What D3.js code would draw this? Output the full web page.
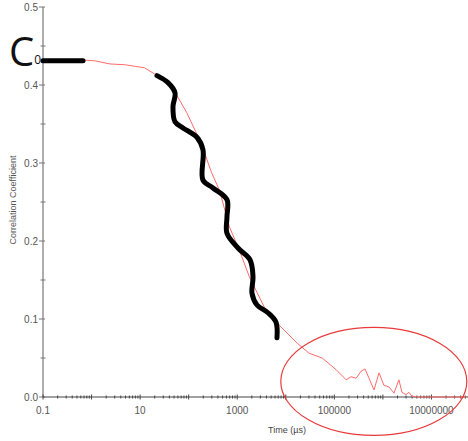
<!DOCTYPE html>
<html>
<head>
<meta charset="utf-8">
<script src="https://cdn.jsdelivr.net/npm/d3@7"></script>
<style>
  body { margin: 0; background: #fff; }
  svg { display: block; font-family: Arial, "Liberation Sans", sans-serif; }
</style>
</head>
<body>
<script>
// correlation curve, time in µs
var times = [0.1, 0.66, 1.17, 2.38, 4.83, 7.74, 12.4, 20, 32, 56.5, 90.6, 145, 212, 295, 431, 692,
  1109, 1782, 3622, 7362, 17200, 30400, 56100, 109000, 175000, 221000, 281000, 355000, 428000,
  519000, 656000, 832000, 1050000, 1330000, 1690000, 2140000, 2470000, 2980000, 3440000, 3960000,
  5510000, 53000000];
var coeffs = [0.431, 0.432, 0.431, 0.427, 0.426, 0.424, 0.422, 0.414, 0.406, 0.387, 0.365, 0.338,
  0.313, 0.288, 0.265, 0.218, 0.188, 0.154, 0.115, 0.092, 0.069, 0.056, 0.050, 0.035, 0.022, 0.026,
  0.024, 0.033, 0.036, 0.024, 0.009, 0.031, 0.015, 0.013, 0.005, 0.022, 0.006, 0.003, 0.006, 0.001,
  0, 0];

var xTickLabels = [0.1, 10, 1000, 100000, 10000000];
var yTickLabels = [0.0, 0.1, 0.2, 0.3, 0.4, 0.5];

// hand drawn marks, in data units
var flatMark = [[0.1, 0.431], [0.667, 0.431]];
var waveMark = [[22.3, 0.412], [37.5, 0.403], [52.3, 0.390], [47.5, 0.372], [52.3, 0.353],
  [76.4, 0.345], [148, 0.333], [197, 0.317], [197, 0.278], [317, 0.268], [615, 0.253],
  [615, 0.231], [615, 0.210], [1038, 0.191], [1833, 0.176], [2113, 0.154], [2014, 0.133],
  [2553, 0.118], [4300, 0.108], [6280, 0.096], [6590, 0.076]];

var width = 468, height = 441;
var margin = {top: 7, left: 43, bottom: 44};

var svg = d3.select("body").append("svg")
  .attr("width", width)
  .attr("height", height);

var x = d3.scaleLog().domain([0.1, 1e8]).range([margin.left, 480]);
var y = d3.scaleLinear().domain([0, 0.5]).range([height - margin.bottom, margin.top]);

// y axis
var yAxis = svg.append("g").attr("transform", "translate(" + margin.left + ",0)");
yAxis.append("line")
  .attr("y1", y(0.5)).attr("y2", y(0))
  .attr("stroke", "#777").attr("stroke-width", 1.2);
yAxis.selectAll(".ymin").data(d3.range(0.05, 0.5, 0.1)).enter().append("line")
  .attr("x1", -2.5).attr("x2", 2.5)
  .attr("y1", function(d) { return y(d); }).attr("y2", function(d) { return y(d); })
  .attr("stroke", "#777");
yAxis.selectAll(".ymaj").data(yTickLabels).enter().append("line")
  .attr("x1", -4).attr("x2", 2)
  .attr("y1", function(d) { return y(d); }).attr("y2", function(d) { return y(d); })
  .attr("stroke", "#777");
yAxis.selectAll("text").data(yTickLabels).enter().append("text")
  .attr("x", -5).attr("y", function(d) { return y(d); })
  .attr("dy", "0.35em")
  .attr("text-anchor", "end")
  .attr("font-size", 10).attr("fill", "#555")
  .text(function(d) { return d3.format(".1f")(d); });

// x axis
var xAxis = svg.append("g").attr("transform", "translate(0," + y(0) + ")");
xAxis.append("line")
  .attr("x1", margin.left).attr("x2", width)
  .attr("stroke", "#444").attr("stroke-width", 1.2);
var minors = [];
for (var e = -1; e < 8; e++) {
  for (var m = 2; m < 10; m++) minors.push(m * Math.pow(10, e));
}
xAxis.selectAll(".xmin").data(minors).enter().append("line")
  .attr("x1", function(d) { return x(d); }).attr("x2", function(d) { return x(d); })
  .attr("y1", -1.5).attr("y2", 1.5)
  .attr("stroke", "#444");
xAxis.selectAll(".xmaj").data(d3.range(-1, 8).map(function(e) { return Math.pow(10, e); }))
  .enter().append("line")
  .attr("x1", function(d) { return x(d); }).attr("x2", function(d) { return x(d); })
  .attr("y1", -2.5).attr("y2", 2.5)
  .attr("stroke", "#444");
xAxis.selectAll("text").data(xTickLabels).enter().append("text")
  .attr("x", function(d) { return x(d); }).attr("y", 17)
  .attr("text-anchor", "middle")
  .attr("font-size", 10).attr("fill", "#555")
  .text(function(d) { return String(d); });

// axis titles
svg.append("text")
  .attr("x", 287).attr("y", 433)
  .attr("text-anchor", "middle")
  .attr("font-size", 9).attr("fill", "#444")
  .text("Time (µs)");
svg.append("text")
  .attr("transform", "translate(16,200) rotate(-90)")
  .attr("text-anchor", "middle")
  .attr("font-size", 9).attr("fill", "#555")
  .text("Correlation Coefficient");

// data curve
var line = d3.line()
  .x(function(d, i) { return x(times[i]); })
  .y(function(d) { return y(d); });
svg.append("path")
  .datum(coeffs)
  .attr("d", line)
  .attr("fill", "none")
  .attr("stroke", "#ff6b6b")
  .attr("stroke-width", 1);

// annotations
var markLine = d3.line()
  .x(function(d) { return x(d[0]); })
  .y(function(d) { return y(d[1]); })
  .curve(d3.curveCatmullRom);
svg.append("path")
  .datum(flatMark)
  .attr("d", markLine)
  .attr("fill", "none").attr("stroke", "#000")
  .attr("stroke-width", 5).attr("stroke-linecap", "round");
svg.append("path")
  .datum(waveMark)
  .attr("d", markLine)
  .attr("fill", "none").attr("stroke", "#000")
  .attr("stroke-width", 5).attr("stroke-linecap", "round");

svg.append("ellipse")
  .attr("cx", x(650000)).attr("cy", y(0.02))
  .attr("rx", 93).attr("ry", 54)
  .attr("fill", "none").attr("stroke", "#e83a3a").attr("stroke-width", 1.2);

var c0 = svg.append("text")
  .attr("x", 9).attr("y", 66)
  .attr("font-family", "'Open Sans', sans-serif")
  .attr("fill", "#111");
c0.append("tspan").attr("font-size", 40).text("C");
c0.append("tspan").attr("font-size", 12).attr("dy", -2).text("0");
</script>
</body>
</html>
